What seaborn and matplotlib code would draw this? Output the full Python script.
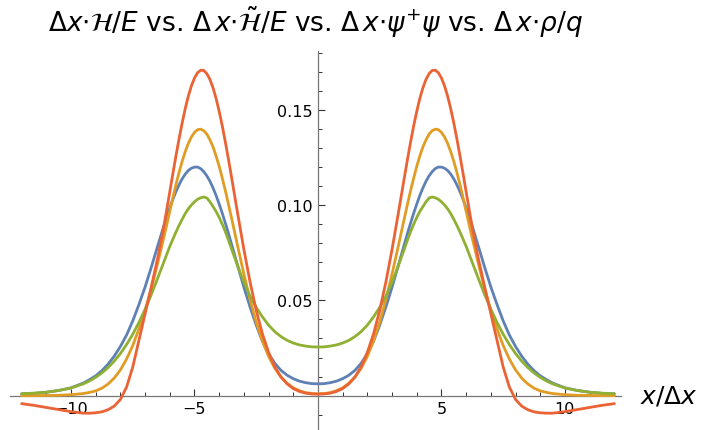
import matplotlib
matplotlib.use("Agg")
import matplotlib.pyplot as plt
import seaborn as sns
import pandas as pd
from matplotlib.ticker import MultipleLocator, FixedLocator

# ---- data (curves are symmetric in x) ----
x_half = [0, 0.25, 0.5, 0.75, 1, 1.25, 1.5, 1.75, 2, 2.25, 2.5, 2.75, 3, 3.25,
          3.5, 3.625, 3.75, 3.875, 4, 4.125, 4.25, 4.375, 4.5, 4.625, 4.75,
          4.875, 5, 5.125, 5.25, 5.375, 5.5, 5.625, 5.75, 5.875, 6, 6.25, 6.5,
          6.75, 7, 7.25, 7.5, 7.75, 8, 8.25, 8.5, 8.75, 9, 9.25, 9.5, 10,
          10.5, 11, 11.5, 12]

energy_half = [0.0062, 0.0063, 0.0068, 0.0076, 0.0089, 0.0107, 0.0133, 0.0170,
               0.0220, 0.0285, 0.0370, 0.0465, 0.0569, 0.0681, 0.0795, 0.0851,
               0.0905, 0.0957, 0.1005, 0.1050, 0.1090, 0.1125, 0.1153, 0.1175,
               0.1191, 0.1199, 0.1199, 0.1193, 0.1181, 0.1162, 0.1137, 0.1106,
               0.1070, 0.1030, 0.0985, 0.0887, 0.0781, 0.0673, 0.0570, 0.0478,
               0.0392, 0.0318, 0.0258, 0.0207, 0.0165, 0.0131, 0.0104, 0.0084,
               0.0066, 0.0041, 0.0027, 0.0018, 0.0012, 0.0009]

energy_t_half = [0.0010, 0.0011, 0.0016, 0.0026, 0.0041, 0.0065, 0.0098, 0.0144,
                 0.0206, 0.0287, 0.0386, 0.0504, 0.0638, 0.0783, 0.0932, 0.1004,
                 0.1076, 0.1141, 0.1203, 0.1257, 0.1305, 0.1342, 0.1372, 0.1390,
                 0.1398, 0.1395, 0.1381, 0.1357, 0.1323, 0.1280, 0.1229, 0.1171,
                 0.1107, 0.1038, 0.0966, 0.0825, 0.0690, 0.0560, 0.0448, 0.0350,
                 0.0263, 0.0192, 0.0135, 0.0092, 0.0061, 0.0039, 0.0025, 0.0017,
                 0.0011, 0.0005, 0.0002, 0.0001, 0.0000, 0.0000]

psi_half = [0.0255, 0.0256, 0.0260, 0.0266, 0.0276, 0.0290, 0.0310, 0.0336,
            0.0370, 0.0413, 0.0463, 0.0522, 0.0595, 0.0680, 0.0770, 0.0816,
            0.0860, 0.0899, 0.0935, 0.0966, 0.0992, 0.1017, 0.1037, 0.1042,
            0.1038, 0.1030, 0.1017, 0.1000, 0.0980, 0.0955, 0.0925, 0.0893,
            0.0858, 0.0821, 0.0783, 0.0698, 0.0613, 0.0530, 0.0453, 0.0384,
            0.0322, 0.0268, 0.0221, 0.0181, 0.0147, 0.0119, 0.0096, 0.0077,
            0.0062, 0.0040, 0.0027, 0.0018, 0.0013, 0.0010]

rho_half = [0.0008, 0.0009, 0.0013, 0.0022, 0.0037, 0.0062, 0.0098, 0.0152,
            0.0227, 0.0324, 0.0447, 0.0596, 0.0767, 0.0954, 0.1146, 0.1240,
            0.1330, 0.1415, 0.1491, 0.1559, 0.1615, 0.1659, 0.1689, 0.1706,
            0.1707, 0.1694, 0.1666, 0.1625, 0.1571, 0.1505, 0.1430, 0.1347,
            0.1258, 0.1165, 0.1069, 0.0880, 0.0715, 0.0570, 0.0430, 0.0290,
            0.0150, 0.0045, -0.0020, -0.0055, -0.0074, -0.0085, -0.0090,
            -0.0092, -0.0092, -0.0084, -0.0073, -0.0062, -0.0051, -0.0042]

series_names = ["Δx·ℋ/E", "Δx·ℋ̃/E", "Δx·ψ⁺ψ", "Δx·ρ/q"]
series_colors = ["#5E81B5", "#E19C24", "#8FB032", "#EB6235"]
x_major = [-10, -5, 5, 10]
x_major_labels = ["−10", "−5", "5", "10"]
y_major = [0.05, 0.10, 0.15]
y_major_labels = ["0.05", "0.10", "0.15"]

# ---- build long-form table ----
x_full = [-v for v in x_half[:0:-1]] + x_half
rows = []
for name, half in zip(series_names, [energy_half, energy_t_half, psi_half, rho_half]):
    full = half[:0:-1] + half
    for xv, yv in zip(x_full, full):
        rows.append({"x": xv, "y": yv, "series": name})
df = pd.DataFrame(rows)

sns.set_style("white")
plt.rcParams["font.family"] = ["DejaVu Sans"]
plt.rcParams["mathtext.fontset"] = "dejavusans"
plt.rcParams["text.color"] = "black"

W, H = 701, 431
fig = plt.figure(figsize=(W / 100, H / 100), dpi=100)
ax = fig.add_axes([10.5 / W, 1 / H, 610 / W, 378.4 / H])

sns.lineplot(data=df, x="x", y="y", hue="series", hue_order=series_names,
             palette=series_colors, legend=False, ax=ax, linewidth=2.0,
             estimator=None, errorbar=None)
for ln in ax.lines:
    ln.set_solid_joinstyle("round")
    ln.set_solid_capstyle("round")

ax.set_xlim(-12.45, 12.25)
ax.set_ylim(-0.0175, 0.181)
ax.set_xlabel("")
ax.set_ylabel("")

axis_col = "#777777"
for s in ["top", "right"]:
    ax.spines[s].set_visible(False)
ax.spines["left"].set_position(("data", 0))
ax.spines["bottom"].set_position(("data", 0))
for s in ["left", "bottom"]:
    ax.spines[s].set_color(axis_col)
    ax.spines[s].set_linewidth(0.9)
    ax.spines[s].set_zorder(1)
ax.set_axisbelow(True)

ax.xaxis.set_major_locator(FixedLocator(x_major))
ax.set_xticklabels(x_major_labels)
ax.xaxis.set_minor_locator(MultipleLocator(1))
ax.yaxis.set_major_locator(FixedLocator(y_major))
ax.set_yticklabels(y_major_labels)
ax.yaxis.set_minor_locator(MultipleLocator(0.01))

ax.tick_params(axis="both", which="both", direction="in", color="#333333",
               labelsize=11.5, labelcolor="black", bottom=True, left=True,
               top=False, right=False)
ax.tick_params(axis="both", which="major", length=5, width=0.8, pad=4)
ax.tick_params(axis="both", which="minor", length=3, width=0.7)

title = (r"$\Delta x{\cdot}\mathcal{H}/E$ vs. $\Delta\, x{\cdot}\tilde{\mathcal{H}}/E$"
         r" vs. $\Delta\, x{\cdot}\psi^{+}\psi$ vs. $\Delta\, x{\cdot}\rho/q$")
fig.text(316 / W, 1 - 22 / H, title, ha="center", va="center", fontsize=19,
         color="black")
fig.text(640 / W, 1 - 397 / H, r"$x/\Delta x$", ha="left", va="center",
         fontsize=18, color="black")

fig.savefig("out.png", dpi=100)
